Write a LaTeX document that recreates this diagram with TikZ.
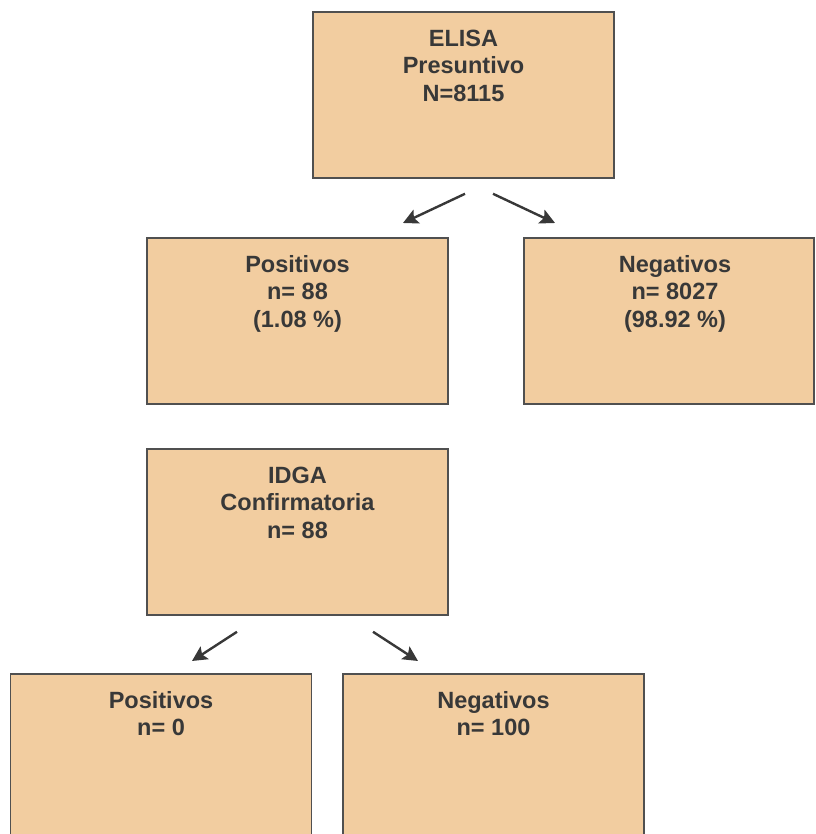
\documentclass[tikz,border=0pt]{standalone}
\usepackage{fontspec}
\setmainfont{Liberation Sans}
\usepackage{tikz}
\usetikzlibrary{arrows,arrows.meta,positioning,calc}
\definecolor{arena}{HTML}{F2CDA0}
\definecolor{borde}{HTML}{505050}
\definecolor{letra}{HTML}{383838}

\begin{document}
\begin{tikzpicture}[x=1pt,y=1pt,
		caja/.style={rectangle, draw=borde, fill=arena, line width=1.8pt, anchor=north, minimum width=301pt, inner ysep=18pt, align=center, text=letra, font=\fontsize{23.5}{27.5}\selectfont\bfseries},
		tres/.style={text height=71.5pt, text depth=58.5pt},
		dos/.style={text height=44pt, text depth=86pt},
		flecha/.style={-{Stealth[length=15pt,width=15pt,inset=3pt]}, line width=2.4pt, draw=letra}]
		\useasboundingbox (0,0) rectangle (815,834);
		\clip (0,0) rectangle (815,834);
		\node[caja,tres] (elisa) at (463.5, 823) {ELISA\\Presuntivo\\N=8115};
		\node[caja,tres] (pos1) at (297.5, 597) {Positivos\\n= 88\\(1.08 \%)};
		\node[caja,tres, minimum width=290pt] (neg1) at (669, 597) {\hspace*{12pt}Negativos\\\hspace*{12pt}n= 8027\\\hspace*{12pt}(98.92 \%)};
		\node[caja,tres] (idga) at (297.5, 386) {IDGA\\Confirmatoria\\n= 88};
		\node[caja,dos] (pos2) at (161, 161) {Positivos\\n= 0};
		\node[caja,dos] (neg2) at (493.5, 161) {Negativos\\n= 100};
		\draw[flecha] ([xshift=1.5pt,yshift=-15pt]elisa.south) -- ([xshift=105.5pt,yshift=14pt]pos1.north);
		\draw[flecha] ([xshift=29.5pt,yshift=-15pt]elisa.south) -- ([xshift=-114pt,yshift=14pt]neg1.north);
		\draw[flecha] ([xshift=-60.5pt,yshift=-16pt]idga.south) -- ([xshift=31pt,yshift=12pt]pos2.north);
		\draw[flecha] ([xshift=75.5pt,yshift=-16pt]idga.south) -- ([xshift=-75.5pt,yshift=12pt]neg2.north);
	\end{tikzpicture}
\end{document}
